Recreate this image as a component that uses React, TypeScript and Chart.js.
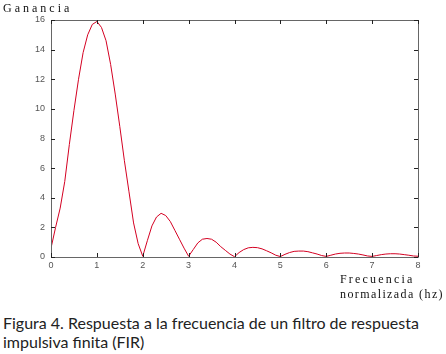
import React, { useEffect, useRef } from "react";
import { Chart, registerables } from "chart.js";

Chart.register(...registerables);

const freq: number[] = [
  0, 0.1, 0.2, 0.3, 0.4, 0.5, 0.6, 0.7, 0.8, 0.9,
  1, 1.1, 1.2, 1.3, 1.4, 1.5, 1.6, 1.7, 1.8, 1.9,
  2, 2.1, 2.2, 2.3, 2.4, 2.5, 2.6, 2.7, 2.8, 2.9,
  3, 3.1, 3.2, 3.3, 3.4, 3.5, 3.6, 3.7, 3.8, 3.9,
  4, 4.1, 4.2, 4.3, 4.4, 4.5, 4.6, 4.7, 4.8, 4.9,
  5, 5.1, 5.2, 5.3, 5.4, 5.5, 5.6, 5.7, 5.8, 5.9,
  6, 6.1, 6.2, 6.3, 6.4, 6.5, 6.6, 6.7, 6.8, 6.9,
  7, 7.1, 7.2, 7.3, 7.4, 7.5, 7.6, 7.7, 7.8, 7.9, 8,
];

const gain: number[] = [
  0.6, 2.0, 3.3, 5.1, 7.6, 9.9, 12.0, 13.8, 15.0, 15.7,
  15.9, 15.5, 14.6, 13.0, 11.0, 8.8, 6.5, 4.4, 2.3, 0.9,
  0.05, 1.1, 2.1, 2.7, 2.95, 2.8, 2.4, 1.8, 1.2, 0.6,
  0.05, 0.5, 0.95, 1.2, 1.25, 1.2, 1.0, 0.7, 0.45, 0.2,
  0.02, 0.3, 0.5, 0.62, 0.65, 0.63, 0.55, 0.42, 0.28, 0.12,
  0.03, 0.18, 0.3, 0.38, 0.4, 0.4, 0.36, 0.28, 0.2, 0.1,
  0.04, 0.12, 0.2, 0.25, 0.27, 0.27, 0.24, 0.2, 0.14, 0.07,
  0.04, 0.1, 0.16, 0.2, 0.22, 0.22, 0.2, 0.16, 0.12, 0.07, 0.05,
];

const xTicks: number[] = [0, 1, 2, 3, 4, 5, 6, 7, 8];
const yTicks: number[] = [0, 2, 4, 6, 8, 10, 12, 14, 16];

const yTitle = "Ganancia";
const xTitle1 = "Frecuencia";
const xTitle2 = "normalizada (hz)";
const caption1 = "Figura 4. Respuesta a la frecuencia de un filtro de respuesta";
const caption2 = "impulsiva finita (FIR)";

const boxPlugin = {
  id: "boxTicks",
  afterDraw(chart: any) {
    const { ctx, chartArea } = chart;
    const xs = chart.scales.x;
    const ys = chart.scales.y;
    const { left, right, top, bottom } = chartArea;
    ctx.save();
    ctx.strokeStyle = "#666";
    ctx.lineWidth = 1;
    ctx.beginPath();
    ctx.rect(Math.round(left) + 0.5, Math.round(top) + 0.5, Math.round(right - left), Math.round(bottom - top));
    ctx.stroke();
    ctx.strokeStyle = "#222";
    ctx.beginPath();
    const tl = 4;
    xTicks.forEach((v) => {
      const px = Math.round(xs.getPixelForValue(v)) + 0.5;
      ctx.moveTo(px, bottom);
      ctx.lineTo(px, bottom - tl);
      ctx.moveTo(px, top);
      ctx.lineTo(px, top + tl);
    });
    yTicks.forEach((v) => {
      const py = Math.round(ys.getPixelForValue(v)) + 0.5;
      ctx.moveTo(left, py);
      ctx.lineTo(left + tl, py);
      ctx.moveTo(right, py);
      ctx.lineTo(right - tl, py);
    });
    ctx.stroke();
    ctx.restore();
  },
};

export default function App() {
  const ref = useRef<HTMLCanvasElement | null>(null);

  useEffect(() => {
    if (!ref.current) return;
    const chart = new Chart(ref.current, {
      type: "line",
      data: {
        datasets: [
          {
            data: freq.map((f, i) => ({ x: f, y: gain[i] })),
            borderColor: "#d40022",
            borderWidth: 1,
            pointRadius: 0,
            tension: 0,
            fill: false,
          },
        ],
      },
      options: {
        animation: false,
        responsive: false,
        maintainAspectRatio: false,
        layout: { padding: { top: 20, right: 28, left: 0, bottom: 0 } },
        plugins: { legend: { display: false }, tooltip: { enabled: false } },
        scales: {
          x: {
            type: "linear",
            min: 0,
            max: 8,
            afterFit: (s: any) => {
              s.height = 43;
            },
            afterBuildTicks: (s: any) => {
              s.ticks = xTicks.map((v) => ({ value: v }));
            },
            grid: { display: false, tickLength: 0 },
            border: { display: false },
            ticks: {
              padding: 3,
              color: "#555",
              font: { family: "Liberation Sans", size: 9 },
              maxRotation: 0,
            },
          },
          y: {
            type: "linear",
            min: 0,
            max: 16,
            afterFit: (s: any) => {
              s.width = 51;
            },
            afterBuildTicks: (s: any) => {
              s.ticks = yTicks.map((v) => ({ value: v }));
            },
            grid: { display: false, tickLength: 0 },
            border: { display: false },
            ticks: {
              padding: 6,
              color: "#555",
              font: { family: "Liberation Sans", size: 9 },
            },
          },
        },
      },
      plugins: [boxPlugin],
    });
    return () => chart.destroy();
  }, []);

  const serif: React.CSSProperties = {
    position: "absolute",
    fontFamily: "Liberation Serif",
    fontSize: 12,
    color: "#111",
    whiteSpace: "nowrap",
    lineHeight: "13px",
  };

  return (
    <div style={{ position: "absolute", left: 0, top: 0, width: 446, height: 354, background: "#fff", overflow: "hidden" }}>
      <canvas ref={ref} width={446} height={300} style={{ position: "absolute", left: 0, top: 0, width: 446, height: 300 }} />
      <div style={{ ...serif, left: 3, top: 2, letterSpacing: 3 }}>{yTitle}</div>
      <div style={{ ...serif, left: 340, top: 273, letterSpacing: 2.2 }}>{xTitle1}</div>
      <div style={{ ...serif, left: 340, top: 288, letterSpacing: 1.4 }}>{xTitle2}</div>
      <div
        style={{
          position: "absolute",
          left: 3,
          top: 313,
          fontFamily: "Lato",
          fontSize: 16,
          lineHeight: "19px",
          color: "#222",
          whiteSpace: "nowrap",
        }}
      >
        <div>{caption1}</div>
        <div>{caption2}</div>
      </div>
    </div>
  );
}
